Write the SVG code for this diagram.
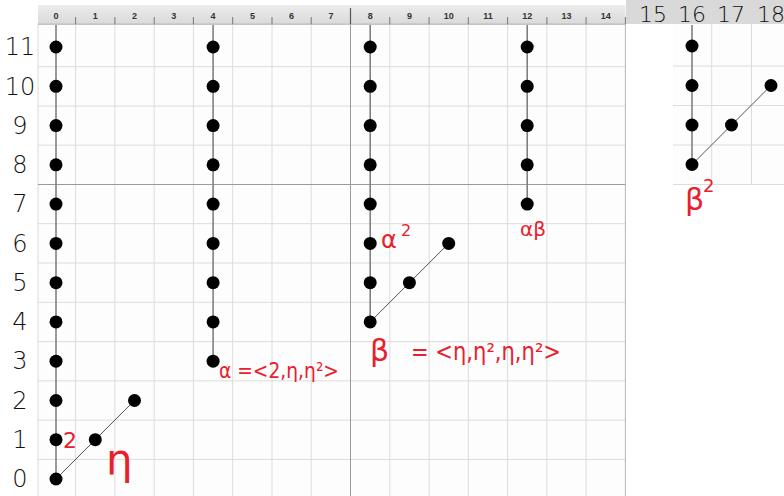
<svg xmlns="http://www.w3.org/2000/svg" xmlns:xlink="http://www.w3.org/1999/xlink" width="784" height="496" viewBox="0 0 784 496">
<style>
.grid{stroke:#dcdcdc;stroke-width:1;fill:none}
.brk{stroke:#9a9a9a;stroke-width:1;fill:none}
.stem{stroke:#808080;stroke-width:1.6;fill:none}
.diag{stroke:#555;stroke-width:1;fill:none}
.dot{fill:#000}
.ruler{font-family:"Liberation Sans",Arial,sans-serif;font-size:9px;font-weight:bold;fill:#333;text-anchor:middle}
.tick{stroke:#777;stroke-width:1}
.hand{font-family:"DejaVu Sans","Liberation Sans",sans-serif;fill:#111;text-anchor:middle;font-weight:300}
.red{font-family:"DejaVu Sans","Liberation Sans",sans-serif;fill:#e8202c}
</style>
<defs>
<circle id="dot" r="6.5" class="dot"/>
<linearGradient id="hdr" x1="0" y1="0" x2="0" y2="1">
<stop offset="0" stop-color="#ececec"/><stop offset="1" stop-color="#dadada"/>
</linearGradient>
</defs>
<rect width="784" height="496" fill="#fff"/>
<!-- main grid -->
<g id="grid">
<rect x="38" y="24" width="587.4" height="472" fill="#fdfdfd"/>
<path class="grid" d="M38 24V496M75.6 24V496M114.9 24V496M154.2 24V496M193.4 24V496M232.7 24V496M272 24V496M311.2 24V496M389.8 24V496M429.1 24V496M468.3 24V496M507.6 24V496M546.9 24V496M586.1 24V496M625.4 24V496"/>
<path class="grid" d="M38 66.7H625.4M38 106H625.4M38 145.2H625.4M38 223.7H625.4M38 263H625.4M38 302.3H625.4M38 341.6H625.4M38 380.8H625.4M38 420.1H625.4M38 459.4H625.4"/>
<path class="brk" d="M350.5 8V496M38 184.5H625.4"/>
<path d="M625.4 24V496" stroke="#bbb" stroke-width="1"/>
<!-- pasted grid -->
<rect x="673" y="24" width="111" height="160.5" fill="#fdfdfd"/>
<path class="grid" d="M711.7 24V184.5M751.5 24V184.5M673 66H784M673 105.5H784M673 145H784M673 184.5H784"/>
</g>
<!-- ruler -->
<g id="ruler">
<rect x="38" y="5" width="587.4" height="19" fill="url(#hdr)"/>
<path d="M38 24.2H625.4" stroke="#aaa" stroke-width="1"/>
<path class="tick" d="M75.6 17V24M114.9 17V24M154.2 17V24M193.4 17V24M232.7 17V24M272 17V24M311.2 17V24M389.8 17V24M429.1 17V24M468.3 17V24M507.6 17V24M546.9 17V24M586.1 17V24M625.4 17V24"/>
<path d="M350.5 8V24" stroke="#555" stroke-width="1.2"/>
<text class="ruler" x="56" y="19">0</text>
<text class="ruler" x="95.3" y="19">1</text>
<text class="ruler" x="134.5" y="19">2</text>
<text class="ruler" x="173.8" y="19">3</text>
<text class="ruler" x="213.1" y="19">4</text>
<text class="ruler" x="252.4" y="19">5</text>
<text class="ruler" x="291.6" y="19">6</text>
<text class="ruler" x="330.9" y="19">7</text>
<text class="ruler" x="370.2" y="19">8</text>
<text class="ruler" x="409.4" y="19">9</text>
<text class="ruler" x="448.7" y="19">10</text>
<text class="ruler" x="488" y="19">11</text>
<text class="ruler" x="527.2" y="19">12</text>
<text class="ruler" x="566.5" y="19">13</text>
<text class="ruler" x="605.8" y="19">14</text>
<rect x="626" y="0" width="158" height="24" fill="#d9d9d9"/>
<text class="hand" x="653" y="22" font-size="22">15</text>
<text class="hand" x="692" y="22" font-size="22">16</text>
<text class="hand" x="731" y="22" font-size="22">17</text>
<text class="hand" x="771" y="22" font-size="22">18</text>
</g>
<!-- row labels -->
<g id="rowlabels" font-size="24">
<text class="hand" x="20" y="55">11</text>
<text class="hand" x="20" y="95">10</text>
<text class="hand" x="20" y="134">9</text>
<text class="hand" x="20" y="173">8</text>
<text class="hand" x="20" y="212">7</text>
<text class="hand" x="20" y="252">6</text>
<text class="hand" x="20" y="291">5</text>
<text class="hand" x="20" y="330">4</text>
<text class="hand" x="20" y="369">3</text>
<text class="hand" x="20" y="409">2</text>
<text class="hand" x="20" y="448">1</text>
<text class="hand" x="20" y="487">0</text>
</g>
<!-- connectors -->
<g id="connectors">
<path class="stem" d="M56 25V479"/>
<path class="stem" d="M213.1 25V361.2"/>
<path class="stem" d="M370.2 25V321.9"/>
<path class="stem" d="M527.2 25V204.1"/>
<path class="stem" d="M692 25V164.5"/>
<path class="diag" d="M56 479L95.3 439.7L134.5 400.5"/>
<path class="diag" d="M370.2 321.9L409.4 282.7L448.7 243.4"/>
<path class="diag" d="M692 164.5L731.5 125L771 85.5"/>
</g>
<!-- nodes: column 0 -->
<g id="c0r0"><use xlink:href="#dot" x="56" y="479"/></g>
<g id="c0r1"><use xlink:href="#dot" x="56" y="439.7"/></g>
<g id="c0r2"><use xlink:href="#dot" x="56" y="400.5"/></g>
<g id="c0r3"><use xlink:href="#dot" x="56" y="361.2"/></g>
<g id="c0r4"><use xlink:href="#dot" x="56" y="321.9"/></g>
<g id="c0r5"><use xlink:href="#dot" x="56" y="282.7"/></g>
<g id="c0r6"><use xlink:href="#dot" x="56" y="243.4"/></g>
<g id="c0r7"><use xlink:href="#dot" x="56" y="204.1"/></g>
<g id="c0r8"><use xlink:href="#dot" x="56" y="164.8"/></g>
<g id="c0r9"><use xlink:href="#dot" x="56" y="125.6"/></g>
<g id="c0r10"><use xlink:href="#dot" x="56" y="86.3"/></g>
<g id="c0r11"><use xlink:href="#dot" x="56" y="47"/></g>
<g id="c1r1"><use xlink:href="#dot" x="95.3" y="439.7"/></g>
<g id="c2r2"><use xlink:href="#dot" x="134.5" y="400.5"/></g>
<!-- column 4 -->
<g id="c4r3"><use xlink:href="#dot" x="213.1" y="361.2"/></g>
<g id="c4r4"><use xlink:href="#dot" x="213.1" y="321.9"/></g>
<g id="c4r5"><use xlink:href="#dot" x="213.1" y="282.7"/></g>
<g id="c4r6"><use xlink:href="#dot" x="213.1" y="243.4"/></g>
<g id="c4r7"><use xlink:href="#dot" x="213.1" y="204.1"/></g>
<g id="c4r8"><use xlink:href="#dot" x="213.1" y="164.8"/></g>
<g id="c4r9"><use xlink:href="#dot" x="213.1" y="125.6"/></g>
<g id="c4r10"><use xlink:href="#dot" x="213.1" y="86.3"/></g>
<g id="c4r11"><use xlink:href="#dot" x="213.1" y="47"/></g>
<!-- column 8 -->
<g id="c8r4"><use xlink:href="#dot" x="370.2" y="321.9"/></g>
<g id="c8r5"><use xlink:href="#dot" x="370.2" y="282.7"/></g>
<g id="c8r6"><use xlink:href="#dot" x="370.2" y="243.4"/></g>
<g id="c8r7"><use xlink:href="#dot" x="370.2" y="204.1"/></g>
<g id="c8r8"><use xlink:href="#dot" x="370.2" y="164.8"/></g>
<g id="c8r9"><use xlink:href="#dot" x="370.2" y="125.6"/></g>
<g id="c8r10"><use xlink:href="#dot" x="370.2" y="86.3"/></g>
<g id="c8r11"><use xlink:href="#dot" x="370.2" y="47"/></g>
<g id="c9r5"><use xlink:href="#dot" x="409.4" y="282.7"/></g>
<g id="c10r6"><use xlink:href="#dot" x="448.7" y="243.4"/></g>
<!-- column 12 -->
<g id="c12r7"><use xlink:href="#dot" x="527.2" y="204.1"/></g>
<g id="c12r8"><use xlink:href="#dot" x="527.2" y="164.8"/></g>
<g id="c12r9"><use xlink:href="#dot" x="527.2" y="125.6"/></g>
<g id="c12r10"><use xlink:href="#dot" x="527.2" y="86.3"/></g>
<g id="c12r11"><use xlink:href="#dot" x="527.2" y="47"/></g>
<!-- column 16 -->
<g id="c16r8"><use xlink:href="#dot" x="692" y="164.5"/></g>
<g id="c16r9"><use xlink:href="#dot" x="692" y="125"/></g>
<g id="c16r10"><use xlink:href="#dot" x="692" y="85.5"/></g>
<g id="c16r11"><use xlink:href="#dot" x="692" y="46"/></g>
<g id="c17r9"><use xlink:href="#dot" x="731.5" y="125"/></g>
<g id="c18r10"><use xlink:href="#dot" x="771" y="85.5"/></g>
<!-- red annotations -->
<g id="annotations">
<text class="red" x="63" y="448" font-size="22">2</text>
<text class="red" x="106" y="474" font-size="42">η</text>
<text class="red" x="219" y="378" font-size="22" textLength="120" lengthAdjust="spacingAndGlyphs">α =&lt;2,η,η²&gt;</text>
<text class="red" x="370" y="361" font-size="30">β</text>
<text class="red" x="411" y="360" font-size="24" textLength="150" lengthAdjust="spacingAndGlyphs">= &lt;η,η²,η,η²&gt;</text>
<text class="red" x="381" y="248" font-size="24">α</text>
<text class="red" x="401" y="236" font-size="16">2</text>
<text class="red" x="520" y="236" font-size="20">αβ</text>
<text class="red" x="685" y="210" font-size="30">β</text>
<text class="red" x="703" y="192" font-size="18">2</text>
</g>
</svg>
